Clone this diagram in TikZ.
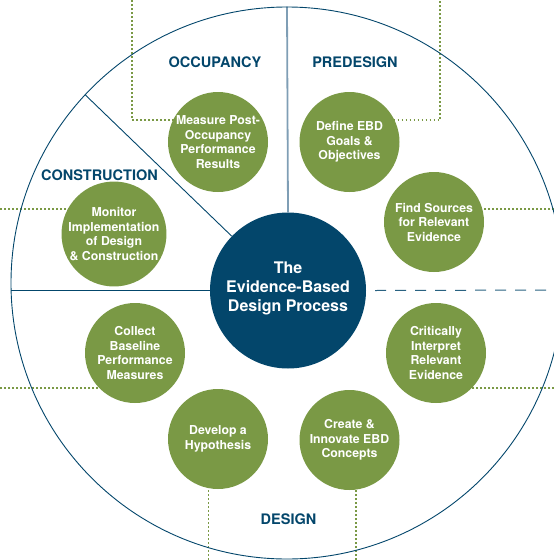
\documentclass[tikz,border=0pt]{standalone}
\usepackage{fontspec}
\setmainfont{TeX Gyre Heros}
\usetikzlibrary{backgrounds}
\definecolor{ebdblue}{HTML}{03466B}
\definecolor{ebdgreen}{HTML}{7A9945}
\definecolor{ebdsteel}{HTML}{7F9EB5}
\tikzset{
  stage/.style={circle, fill=ebdgreen, minimum size=100pt, inner sep=0pt, text=white,
    font=\fontsize{12.3}{14.5}\selectfont\bfseries, align=center},
  phase/.style={text=ebdblue, font=\fontsize{14.5}{16}\selectfont\bfseries, inner sep=0pt},
  greendots/.style={draw=ebdgreen, line width=1.7pt, dash pattern=on 1.7pt off 2.3pt},
  thinblue/.style={draw=ebdblue, line width=0.9pt},
}
\begin{document}
\begin{tikzpicture}[x=1pt,y=-1pt]
\useasboundingbox (0,0) rectangle (554,560);
% outer circle and centre
\node[circle, draw=ebdblue, line width=0.9pt, minimum size=552pt, inner sep=0pt] (outer) at (287,283) {};
\node[circle, fill=ebdblue, minimum size=156pt, inner sep=0pt] (core) at (288,290.5) {};
\node[text=white, font=\fontsize{16}{19.3}\selectfont\bfseries, align=center, inner sep=0pt] (coretext) at (288,288.5) {The\\Evidence-Based\\Design Process};
% stages
\node[stage] (measure) at (218,142) {Measure Post-\\Occupancy\\Performance\\Results};
\node[stage] (define) at (349.5,142) {Define EBD\\Goals \&\\Objectives};
\node[stage] (find) at (434,222) {Find Sources\\for Relevant\\Evidence};
\node[stage] (monitor) at (114,234) {Monitor\\Implementation\\of Design\\\& Construction};
\node[stage] (collect) at (135,353) {Collect\\Baseline\\Performance\\Measures};
\node[stage] (interpret) at (436,353) {Critically\\Interpret\\Relevant\\Evidence};
\node[stage] (develop) at (218,439) {Develop a\\Hypothesis};
\node[stage] (create) at (349.5,440) {Create \&\\Innovate EBD\\Concepts};
% phase labels
\node[phase] (occ) at (215,62.5) {OCCUPANCY};
\node[phase] (pre) at (355,62.5) {PREDESIGN};
\node[phase] (con) at (99.5,175) {CONSTRUCTION};
\node[phase] (des) at (288.5,519) {DESIGN};
% edge coordinates
\coordinate (tl) at (132,0);
\coordinate (tr) at (440,0);
\coordinate (lu) at (0,209);
\coordinate (ru) at (554,209);
\coordinate (ll) at (0,388);
\coordinate (rl) at (554,388);
\coordinate (bl) at (208.5,560);
\coordinate (br) at (356,560);
\coordinate (rd) at (554,290);
\begin{scope}[on background layer]
  \draw[greendots] (measure.center |- 0,120) -- (tl |- 0,120) -- (tl);
  \draw[greendots] (define.center |- 0,120) -- (tr |- 0,120) -- (tr);
  \draw[greendots] (lu) -- (lu -| monitor.center);
  \draw[greendots] (ru) -- (ru -| find.center);
  \draw[greendots] (ll) -- (ll -| collect.center);
  \draw[greendots] (rl) -- (rl -| interpret.center);
  \draw[greendots] (bl) -- (bl |- develop.center);
  \draw[greendots] (br) -- (br |- create.center);
  \draw[draw=ebdsteel, line width=1.8pt] (outer.north) -- (core.north);
  \draw[thinblue] (core.west) -- (core.west -| outer.west);
  \draw[thinblue] (core.136.5) -- (outer.137.5);
  \draw[draw=ebdblue!85, line width=1pt, dash pattern=on 11pt off 9pt] ([xshift=9pt]core.east) -- (rd);
\end{scope}
\end{tikzpicture}
\end{document}
